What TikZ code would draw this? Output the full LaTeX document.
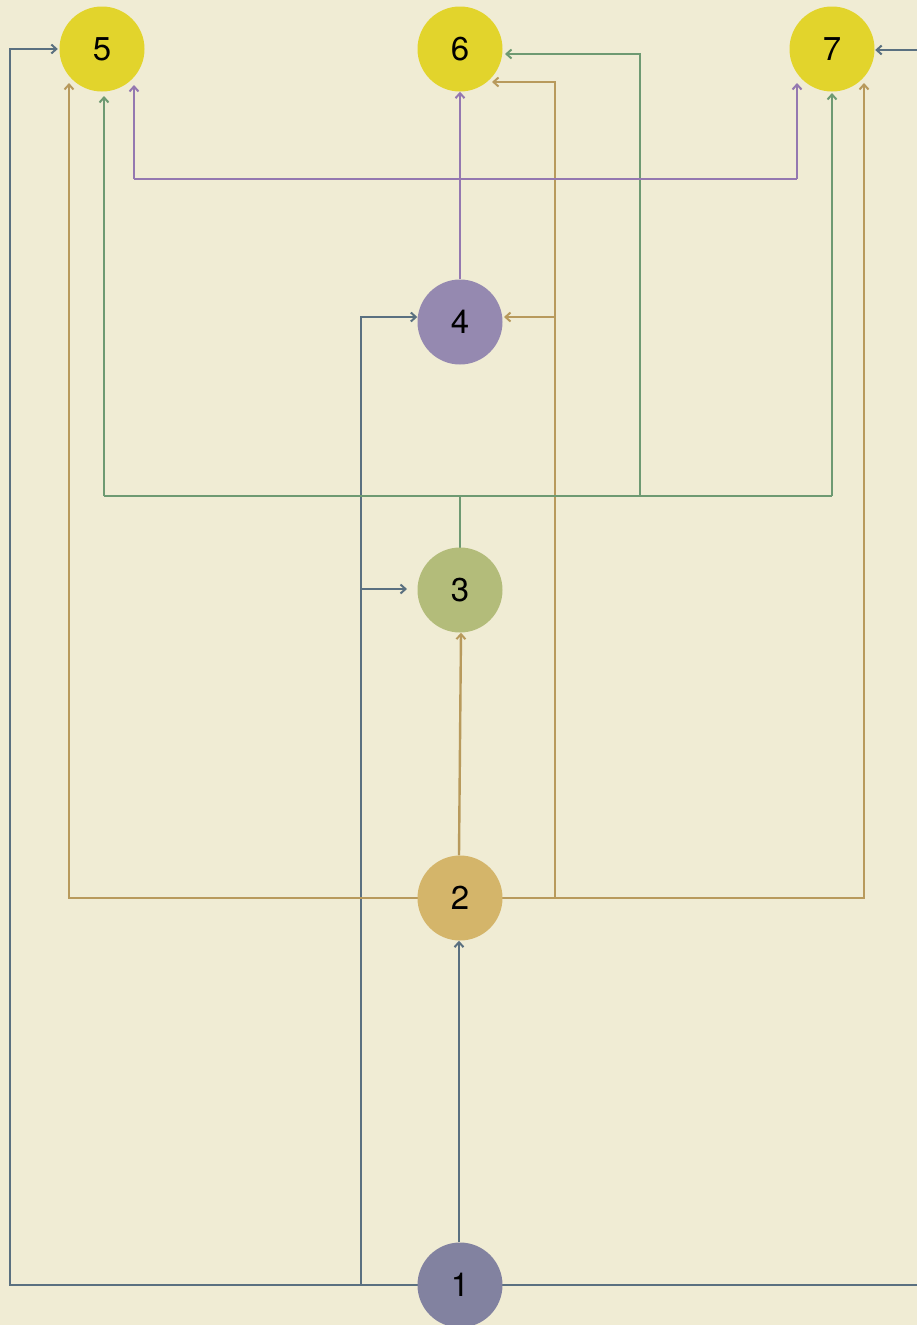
\documentclass[tikz,border=0pt]{standalone}
\usepackage{fontspec}
\setmainfont{TeX Gyre Heros}
\usetikzlibrary{arrows.meta,calc}
\pgfdeclarelayer{back}
\pgfdeclarelayer{bg}
\pgfsetlayers{back,bg,main}
\definecolor{bgc}{HTML}{F0ECD4}
\definecolor{ylw}{HTML}{E2D42C}
\definecolor{purn}{HTML}{9589B0}
\definecolor{grnn}{HTML}{B3BC7A}
\definecolor{tann}{HTML}{D4B56A}
\definecolor{blun}{HTML}{8282A0}
\definecolor{slc}{HTML}{5A7080}
\definecolor{tnc}{HTML}{B89A5C}
\definecolor{gnc}{HTML}{6E9A72}
\definecolor{puc}{HTML}{9478B0}
\tikzset{
  vtx/.style={circle,minimum size=85pt,inner sep=0pt,font=\fontsize{33}{40}\selectfont},
  edge/.style={line width=2.4pt,-{Straight Barb[length=5pt,width=9pt,line width=2pt]}},
  plain/.style={line width=2.4pt},
  sl/.style={color=slc},
  tn/.style={color=tnc},
  gn/.style={color=gnc},
  pu/.style={color=puc}
}
\begin{document}
\begin{tikzpicture}[x=1pt,y=-1pt]
\begin{pgfonlayer}{back}
\fill[bgc] (0,0) rectangle (917,1325);
\end{pgfonlayer}
\useasboundingbox (0,0) rectangle (917,1325);
\clip (0,0) rectangle (917,1325);
\node[vtx,fill=ylw] (n5) at (102,49) {5};
\node[vtx,fill=ylw] (n6) at (460,49) {6};
\node[vtx,fill=ylw] (n7) at (832,49) {7};
\node[vtx,fill=purn] (n4) at (460,322) {4};
\node[vtx,fill=grnn] (n3) at (460,590) {3};
\node[vtx,fill=tann] (n2) at (460,898) {2};
\node[vtx,fill=blun] (n1) at (460,1285) {1};
% junctions and free ends
\coordinate (sL) at (10,1285);
\coordinate (sM) at (361,1285);
\coordinate (sM3) at (361,589);
\coordinate (sR) at (935,1285);
\coordinate (t3) at (407,589);
\coordinate (tL) at (69,898);
\coordinate (tR) at (864,898);
\coordinate (tM) at (555,898);
\coordinate (tM4) at (555,317);
\coordinate (t5) at (69,83);
\coordinate (t7) at (864,83);
\coordinate (t6) at (492,82);
\coordinate (t4) at (504,317);
\coordinate (gC) at (460,496);
\coordinate (gL) at (104,496);
\coordinate (gR) at (832,496);
\coordinate (gM) at (640,496);
\coordinate (g5) at (104,96);
\coordinate (g7) at (832,93);
\coordinate (g6) at (505,54);
\coordinate (pC) at (460,179);
\coordinate (pL) at (134,179);
\coordinate (pR) at (797,179);
\coordinate (p5) at (134,85);
\coordinate (p7) at (797,83);
\begin{pgfonlayer}{bg}
% slate edges from 1
\draw[edge,sl] ([xshift=-1pt]n1.north) -- ([xshift=-1pt]n2.south);
\draw[edge,sl,shorten >=1.5pt] (n1.center) -- (sL) |- (n5.west);
\draw[edge,sl] (sM) |- ([yshift=5pt]n4.west);
\draw[edge,sl] (sM3) -- (t3);
\draw[edge,sl] (n1.center) -- (sR) |- ([xshift=0.5pt,yshift=-1pt]n7.east);
% tan edges from 2
\draw[edge,tn] ([xshift=-1pt]n2.north) -- ([xshift=1pt]n3.south);
\draw[edge,tn] (n2.center) -- (tL) -- (t5);
\draw[edge,tn] (n2.center) -- (tR) -- (t7);
\draw[edge,tn] (tM) |- (t6);
\draw[edge,tn] (tM4) -- (t4);
% green edges from 3
\draw[plain,gn] (n3.center) -- (gC);
\draw[plain,gn] (gL) -- (gR);
\draw[edge,gn] (gL) -- (g5);
\draw[edge,gn] (gR) -- (g7);
\draw[edge,gn] (gM) |- (g6);
% purple edges from 4
\draw[edge,pu] (n4) -- (n6);
\draw[plain,pu] (pL) -- (pR);
\draw[edge,pu] (pL) -- (p5);
\draw[edge,pu] (pR) -- (p7);
\end{pgfonlayer}
\end{tikzpicture}
\end{document}
